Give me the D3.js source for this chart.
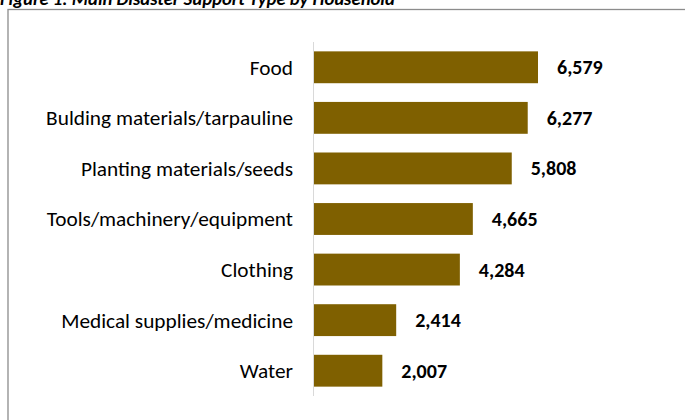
<!DOCTYPE html>
<html>
<head>
<meta charset="utf-8">
<script src="https://cdn.jsdelivr.net/npm/d3@7"></script>
<style>
  html, body { margin: 0; padding: 0; background: #fff; }
  svg { display: block; }
</style>
</head>
<body>
<svg id="chart" width="685" height="420"></svg>
<script>
// Main disaster support type, number of households
const categories = [
  "Food",
  "Bulding materials/tarpauline",
  "Planting materials/seeds",
  "Tools/machinery/equipment",
  "Clothing",
  "Medical supplies/medicine",
  "Water"
];
const households = [6579, 6277, 5808, 4665, 4284, 2414, 2007];
const title = "Figure 1: Main Disaster Support Type by Household";

const svg = d3.select("#chart");
const font = "Carlito, Calibri, 'Open Sans', 'Liberation Sans', sans-serif";

// Title (partly above the top edge)
svg.append("text")
  .attr("x", 0).attr("y", 4.5)
  .attr("font-family", font)
  .attr("font-size", 18.7)
  .attr("font-weight", "bold")
  .attr("font-style", "italic")
  .attr("fill", "#000")
  .text(title);

// Chart frame
svg.append("rect")
  .attr("x", 8).attr("y", 9.5)
  .attr("width", 700).attr("height", 430)
  .attr("fill", "none")
  .attr("stroke", "#8c8c8c")
  .attr("stroke-width", 1.3);

const x0 = 314;
const x = d3.scaleLinear().domain([0, 6579]).range([x0, 538]);
const y = d3.scaleBand().domain(categories).range([42, 396]).paddingInner(0.37).paddingOuter(0.185);

const data = categories.map((c, i) => ({ c, v: households[i] }));

svg.append("g").selectAll("rect")
  .data(data).join("rect")
  .attr("x", x0)
  .attr("y", d => y(d.c))
  .attr("width", d => x(d.v) - x0)
  .attr("height", y.bandwidth())
  .attr("fill", "#7f6000");

// Category axis line
svg.append("line")
  .attr("x1", x0 - 0.5).attr("x2", x0 - 0.5)
  .attr("y1", 42).attr("y2", 396)
  .attr("stroke", "#d9d9d9").attr("stroke-width", 1);

// Category labels
svg.append("g").selectAll("text")
  .data(data).join("text")
  .attr("x", 293)
  .attr("y", d => y(d.c) + y.bandwidth() / 2)
  .attr("dy", "0.35em")
  .attr("text-anchor", "end")
  .attr("font-family", font)
  .attr("font-size", 21.3)
  .attr("fill", "#000")
  .text(d => d.c);

// Value labels
const fmt = d3.format(",");
svg.append("g").selectAll("text")
  .data(data).join("text")
  .attr("x", d => x(d.v) + 19)
  .attr("y", d => y(d.c) + y.bandwidth() / 2)
  .attr("dy", "0.35em")
  .attr("font-family", font)
  .attr("font-size", 20)
  .attr("font-weight", "bold")
  .attr("fill", "#000")
  .text(d => fmt(d.v));
</script>
</body>
</html>
